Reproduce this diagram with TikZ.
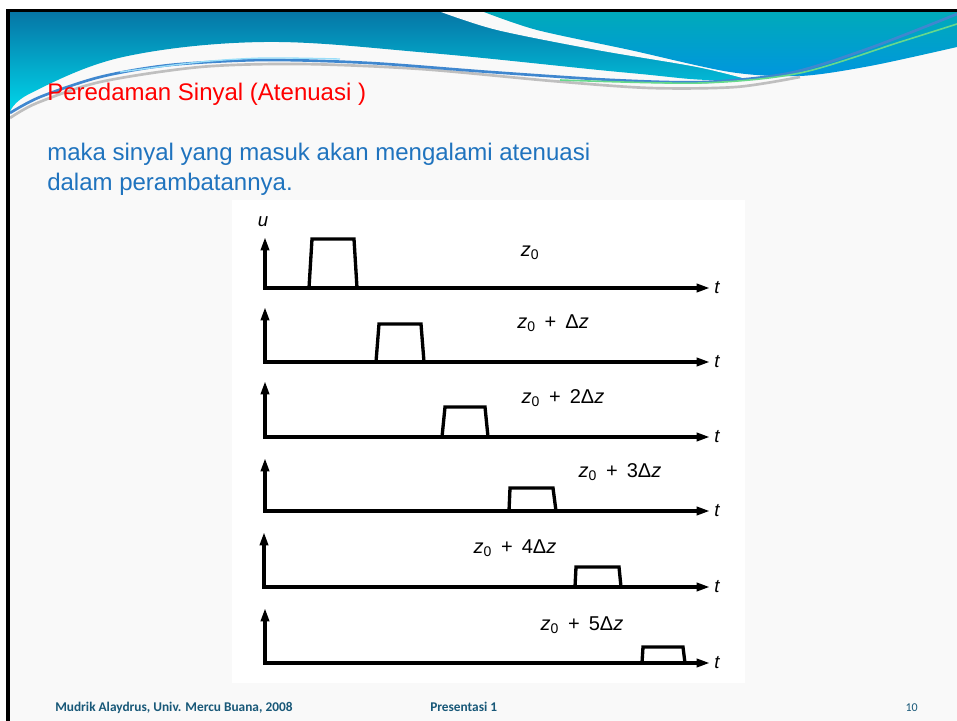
\documentclass[tikz,border=0pt]{standalone}
\usepackage{fontspec}
\setmainfont{Liberation Sans}
\newfontfamily\footfont{Carlito}
\usetikzlibrary{arrows.meta,positioning,calc}
\definecolor{titlered}{RGB}{255,0,0}
\definecolor{bodyblue}{RGB}{31,115,190}
\definecolor{footteal}{RGB}{24,88,120}
\definecolor{wavetop}{RGB}{6,118,166}
\definecolor{wavebottom}{RGB}{0,214,234}
\definecolor{righttop}{RGB}{0,170,186}
\definecolor{rightbottom}{RGB}{0,150,222}
\definecolor{slidebg}{RGB}{249,249,249}
\newcommand{\zlab}[1]{\textit{z}\textsubscript{0}\hspace{0.45em}+\hspace{0.45em}#1\textit{z}}

\begin{document}
\begin{tikzpicture}[
    x=0.75pt, y=-0.75pt,
    axis/.style={line width=2.5pt, {Triangle[length=10pt,width=6pt]}-{Triangle[length=10pt,width=6pt]}},
    sig/.style={line width=2.5pt, line join=miter},
    lab/.style={font=\fontsize{15}{17}\selectfont},
    tlab/.style={font=\fontsize{14}{16}\selectfont\itshape, inner sep=0pt},
    txt/.style={anchor=base west, inner sep=0pt, font=\fontsize{18}{22}\selectfont},
    foot/.style={anchor=base west, inner sep=0pt, text=footteal, font=\footfont\bfseries\fontsize{10}{12}\selectfont}
]
\useasboundingbox (0,0) rectangle (957,721);
\fill[slidebg] (8,10) rectangle (957,721);

% Header wave
\shade[top color=wavetop, bottom color=wavebottom]
  (957,12) -- (10,12) -- (10,112) -- plot[smooth, tension=0.6] coordinates
  {(10,112) (31,93) (123,57) (264,42) (430,53) (630,73) (730,80) (860,68) (957,47)} -- cycle;
\fill[slidebg] (441,12) -- plot[smooth] coordinates {(441,12) (497,30) (597,50) (697,67) (750,80)}
  -- (957,82) -- (957,12) -- cycle;
\shade[top color=righttop, bottom color=rightbottom]
  (484,12) -- plot[smooth] coordinates {(484,12) (537,30) (630,50) (730,72) (800,76) (870,66) (957,47)}
  -- (957,12) -- cycle;
\draw[gray!50, line width=2pt] plot[smooth] coordinates
  {(10,118) (37,103) (100,82) (200,67) (300,64) (420,69) (552,81) (650,88) (736,87) (800,77)};
\draw[cyan!55!blue!80, line width=2pt] plot[smooth] coordinates
  {(10,113) (40,97) (100,77) (170,65) (264,60) (370,63) (490,72) (613,80) (705,82) (790,73) (870,48) (957,14)};
\draw[cyan!40, line width=1pt] plot[smooth] coordinates {(120,72) (200,62) (264,58) (340,59)};
\draw[teal!50!green!60, line width=1.2pt] plot[smooth] coordinates {(560,80) (700,83) (800,73) (900,42) (957,24)};

% Slide border
\draw[line width=2.5pt] (8,721) -- (8,10.5) -- (957,10.5);

% Title and text
\node[txt, text=titlered] (title) at (47,100) {Peredaman Sinyal (Atenuasi )};
\node[txt, text=bodyblue] (body1) at (47,160) {maka sinyal yang masuk akan mengalami atenuasi};
\node[txt, text=bodyblue] (body2) at (47,190) {dalam perambatannya.};

% Figure panel
\fill[white] (232,200) rectangle (745,683);
\node[tlab] (u) at (263,222) {u};

% Row 1: z_0
\coordinate (o1) at (265,288); \coordinate (u1) at (265,237); \coordinate (t1) at (710,288);
\draw[axis] (u1) -- (o1) -- (t1);
\draw[sig] (309,288) -- (312,239) -- (354,239) -- (357,288);
\node[lab] (z1) at (530,253) {\textit{z}\textsubscript{0}};
\node[tlab, right=3pt of t1] (tt1) {t};

% Row 2: z_0 + dz
\coordinate (o2) at (265,362); \coordinate (u2) at (265,307); \coordinate (t2) at (710,362);
\draw[axis] (u2) -- (o2) -- (t2);
\draw[sig] (376,362) -- (379,324) -- (421,324) -- (424,362);
\node[lab] (z2) at (553,323) {\zlab{Δ}};
\node[tlab, right=3pt of t2] (tt2) {t};

% Row 3: z_0 + 2dz
\coordinate (o3) at (265,437); \coordinate (u3) at (265,381); \coordinate (t3) at (710,437);
\draw[axis] (u3) -- (o3) -- (t3);
\draw[sig] (442,437) -- (445,407) -- (485,407) -- (488,437);
\node[lab] (z3) at (563,398) {\zlab{2Δ}};
\node[tlab, right=3pt of t3] (tt3) {t};

% Row 4: z_0 + 3dz
\coordinate (o4) at (265,511); \coordinate (u4) at (265,458); \coordinate (t4) at (710,511);
\draw[axis] (u4) -- (o4) -- (t4);
\draw[sig] (509,511) -- (510,488) -- (553,488) -- (556,511);
\node[lab] (z4) at (620,472) {\zlab{3Δ}};
\node[tlab, right=3pt of t4] (tt4) {t};

% Row 5: z_0 + 4dz
\coordinate (o5) at (264,587); \coordinate (u5) at (264,532); \coordinate (t5) at (710,587);
\draw[axis] (u5) -- (o5) -- (t5);
\draw[sig] (575,587) -- (576,567) -- (619,567) -- (621,587);
\node[lab] (z5) at (515,548) {\zlab{4Δ}};
\node[tlab, right=3pt of t5] (tt5) {t};

% Row 6: z_0 + 5dz
\coordinate (o6) at (265,663); \coordinate (u6) at (265,608); \coordinate (t6) at (710,663);
\draw[axis] (u6) -- (o6) -- (t6);
\draw[sig] (642,663) -- (643,647) -- (683,647) -- (685,663);
\node[lab] (z6) at (582,625) {\zlab{5Δ}};
\node[tlab, right=3pt of t6] (tt6) {t};

% Footer
\node[foot] (author) at (55,711) {Mudrik Alaydrus, Univ. Mercu Buana, 2008};
\node[foot] (pres) at (430,711) {Presentasi 1};
\node[foot, anchor=base east, font=\footfont\fontsize{9}{11}\selectfont] (page) at (918,711) {10};
\end{tikzpicture}
\end{document}
